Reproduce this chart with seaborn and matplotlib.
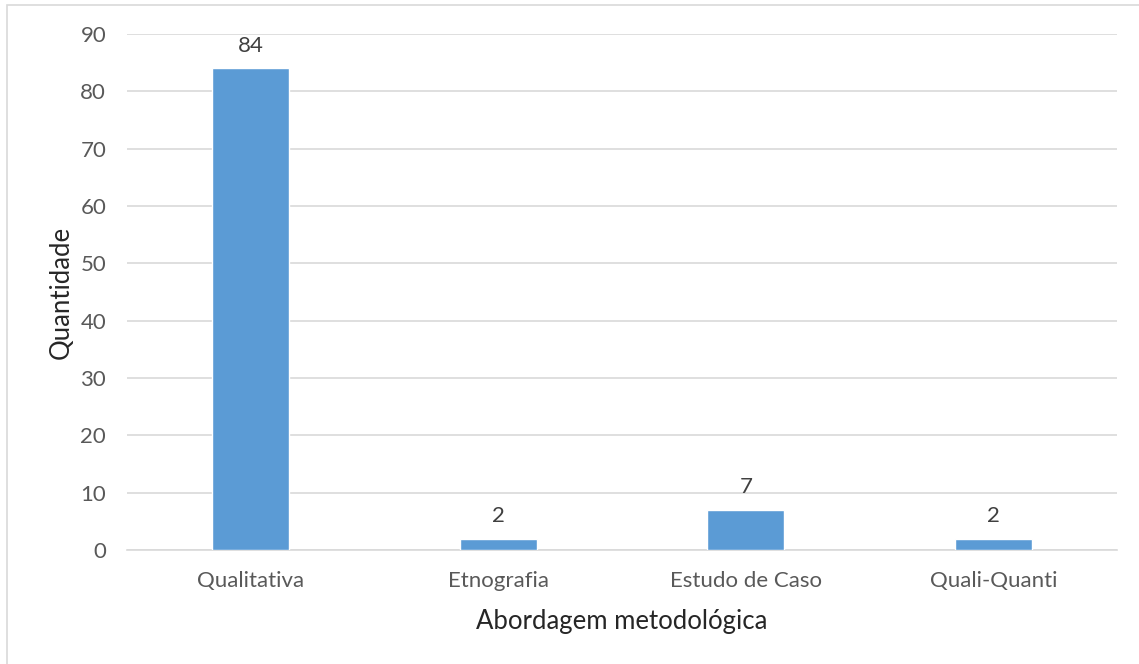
import matplotlib
matplotlib.use("Agg")
import matplotlib.pyplot as plt
import seaborn as sns
import pandas as pd

categorias = ["Qualitativa", "Etnografia", "Estudo de Caso", "Quali-Quanti"]
quantidades = [84, 2, 7, 2]
y_ticks = [0, 10, 20, 30, 40, 50, 60, 70, 80, 90]

df = pd.DataFrame({"Abordagem": categorias, "Quantidade": quantidades})

sns.set_theme(style="white")
plt.rcParams["font.family"] = ["Lato", "DejaVu Sans"]

fig = plt.figure(figsize=(11.39, 6.64), dpi=100)
ax = fig.add_axes([0.1115, 0.1717, 0.8692, 0.7771])

sns.barplot(data=df, x="Abordagem", y="Quantidade", color="#5B9BD5",
            width=0.31, saturation=1, ax=ax, zorder=3)

ax.set_ylim(0, 90)
ax.set_yticks(y_ticks)
ax.set_xlim(-0.5, len(categorias) - 0.5)
ax.yaxis.grid(True, color="#D9D9D9", linewidth=1.2, zorder=0)
ax.set_axisbelow(True)
for side in ["top", "right", "left"]:
    ax.spines[side].set_visible(False)
ax.spines["bottom"].set_color("#D9D9D9")
ax.spines["bottom"].set_linewidth(1.2)
ax.tick_params(axis="both", length=0, labelsize=16, labelcolor="#595959")
ax.tick_params(axis="y", pad=15)
ax.tick_params(axis="x", pad=15)

for i, v in enumerate(quantidades):
    ax.annotate(str(v), (i, v), xytext=(0, 9), textcoords="offset points",
                ha="center", va="bottom", fontsize=16, color="#404040")

ax.set_xlabel("Abordagem metodológica", fontsize=18.5, color="#262626", labelpad=13)
ax.set_ylabel("Quantidade", fontsize=18.5, color="#262626", labelpad=5)

# light frame around the chart area
frame = plt.Rectangle((7 / 1139, -0.1), 1.2, 1 - 5 / 664 + 0.1, transform=fig.transFigure,
                      fill=False, edgecolor="#D9D9D9", linewidth=1.2)
fig.patches.append(frame)

fig.savefig("out.png", dpi=100)
